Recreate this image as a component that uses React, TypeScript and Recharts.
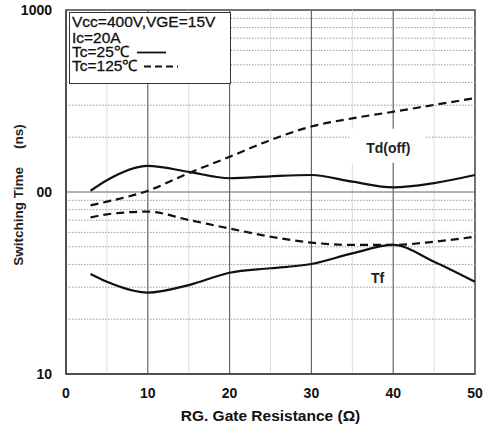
import { LineChart, Line, XAxis, YAxis, ReferenceLine, ReferenceArea, ReferenceDot, Label } from "recharts"

// gate resistance (ohm)
const rg = [3, 5, 10, 15, 20, 25, 30, 35, 40, 45, 50]
// switching times (ns)
const tdOff25 = [101.6, 116, 139, 129, 119, 122, 124, 114, 106, 112, 124]
const tdOff125 = [84.5, 88.5, 101.6, 127, 156, 193, 229, 254, 276, 301, 328]
const tf25 = [35.4, 32.1, 28, 30.8, 36, 38.1, 40.2, 46, 51.2, 41.4, 32.1]
const tf125 = [72.6, 75.4, 78, 70.2, 63, 56.8, 52.7, 51.2, 51.2, 53.3, 56.8]

const xTicks = [0, 10, 20, 30, 40, 50]
const yTicks = [10, 100, 1000]
const yTickText: Record<number, string> = { 10: "10", 100: "00", 1000: "1000" }
const xMajor = [10, 20, 30, 40]
const xMinor = [5, 15, 25, 35, 45]
const yMinor = [20, 30, 40, 50, 60, 70, 80, 90, 200, 300, 400, 500, 600, 700, 800, 900]

const legendLines = ["Vcc=400V,VGE=15V", "Ic=20A", "Tc=25\u2103", "Tc=125\u2103"]

const data = rg.map((r, i) => ({
  rg: r,
  tdOff25: tdOff25[i],
  tdOff125: tdOff125[i],
  tf25: tf25[i],
  tf125: tf125[i],
}))

const FONT = "'Liberation Sans', Arial, sans-serif"

function CurveTag({ cx, cy, text, w, h }: any) {
  return (
    <g>
      <rect x={cx - w / 2} y={cy - h / 2 - 2} width={w} height={h} fill="#fff" />
      <text x={cx} y={cy + 5} textAnchor="middle" fontFamily={FONT} fontWeight="bold" fontSize={14} fill="#222">
        {text}
      </text>
    </g>
  )
}

export default function App() {
  return (
    <div style={{ position: "absolute", left: 0, top: 0, width: 491, height: 428, background: "#fff" }}>
      <LineChart width={491} height={428} data={data} margin={{ top: 10, right: 16, bottom: 0, left: 0 }}>
        <XAxis
          dataKey="rg"
          type="number"
          domain={[0, 50]}
          ticks={xTicks}
          height={54}
          tickSize={0}
          tickMargin={14}
          stroke="#444"
          strokeWidth={1.5}
          tick={{ fill: "#111", fontSize: 14, fontWeight: "bold", fontFamily: FONT }}
        >
          <Label
            content={({ viewBox }: any) => (
              <text
                x={viewBox.x + viewBox.width / 2}
                y={421}
                textAnchor="middle"
                fontFamily={FONT}
                fontWeight="bold"
                fontSize={15.5}
                fill="#111"
              >
                RG. Gate Resistance (Ω)
              </text>
            )}
          />
        </XAxis>
        <YAxis
          scale="log"
          domain={[10, 1000]}
          ticks={yTicks}
          allowDataOverflow
          width={66}
          tickSize={0}
          tickMargin={14}
          stroke="#444"
          strokeWidth={1.5}
          tickFormatter={(v: number) => yTickText[v] ?? String(v)}
          tick={{ fill: "#111", fontSize: 14, fontWeight: "bold", fontFamily: FONT }}
        >
          <Label
            content={({ viewBox }: any) => {
              const cy = viewBox.y + viewBox.height / 2 + 3
              return (
                <text
                  x={23}
                  y={cy}
                  transform={`rotate(-90, 23, ${cy})`}
                  textAnchor="middle"
                  fontFamily={FONT}
                  fontWeight="bold"
                  fontSize={13.5}
                  fill="#222"
                >
                  Switching Time
                  <tspan dx={18}>(ns)</tspan>
                </text>
              )
            }}
          />
        </YAxis>

        {xMinor.map((x) => (
          <ReferenceLine key={`xm${x}`} x={x} stroke="#ddd" strokeWidth={1} />
        ))}
        {yMinor.map((y) => (
          <ReferenceLine key={`ym${y}`} y={y} stroke="#999" strokeWidth={1} strokeDasharray="1.5 1.5" />
        ))}
        {xMajor.map((x) => (
          <ReferenceLine key={`xM${x}`} x={x} stroke="#666" strokeWidth={1.2} />
        ))}
        <ReferenceLine y={100} stroke="#666" strokeWidth={1.2} />
        <ReferenceArea x1={0} x2={50} y1={10} y2={1000} fill="none" stroke="#444" strokeWidth={1.5} />

        <ReferenceDot x={39.4} y={175} r={0} shape={(p: any) => <CurveTag {...p} text="Td(off)" w={75} h={34} />} />
        <ReferenceDot x={38.1} y={33.7} r={0} shape={(p: any) => <CurveTag {...p} text="Tf" w={28} h={18} />} />

        <Line type="monotone" dataKey="tdOff25" stroke="#111" strokeWidth={2.2} dot={false} isAnimationActive={false} />
        <Line type="monotone" dataKey="tf25" stroke="#111" strokeWidth={2.2} dot={false} isAnimationActive={false} />
        <Line
          type="monotone"
          dataKey="tdOff125"
          stroke="#111"
          strokeWidth={2.2}
          strokeDasharray="8 5"
          dot={false}
          isAnimationActive={false}
        />
        <Line
          type="monotone"
          dataKey="tf125"
          stroke="#111"
          strokeWidth={2.2}
          strokeDasharray="8 5"
          dot={false}
          isAnimationActive={false}
        />
      </LineChart>

      {/* condition box in the top-left corner */}
      <svg width={491} height={428} style={{ position: "absolute", left: 0, top: 0, pointerEvents: "none" }}>
        <rect x={69.5} y={12.5} width={161} height={71} fill="#fff" stroke="#333" strokeWidth={1} />
        {legendLines.map((t, i) => (
          <text
            key={t}
            x={72}
            y={[27, 42.5, 57, 71][i]}
            fontFamily={FONT}
            fontSize={15.5}
            fill="#111"
            stroke="#111"
            strokeWidth={0.3}
          >
            {t}
          </text>
        ))}
        <line x1={137} x2={166} y1={52.5} y2={52.5} stroke="#111" strokeWidth={1.8} />
        <line x1={144} x2={178} y1={66.5} y2={66.5} stroke="#111" strokeWidth={1.8} strokeDasharray="7 4" />
      </svg>
    </div>
  )
}
